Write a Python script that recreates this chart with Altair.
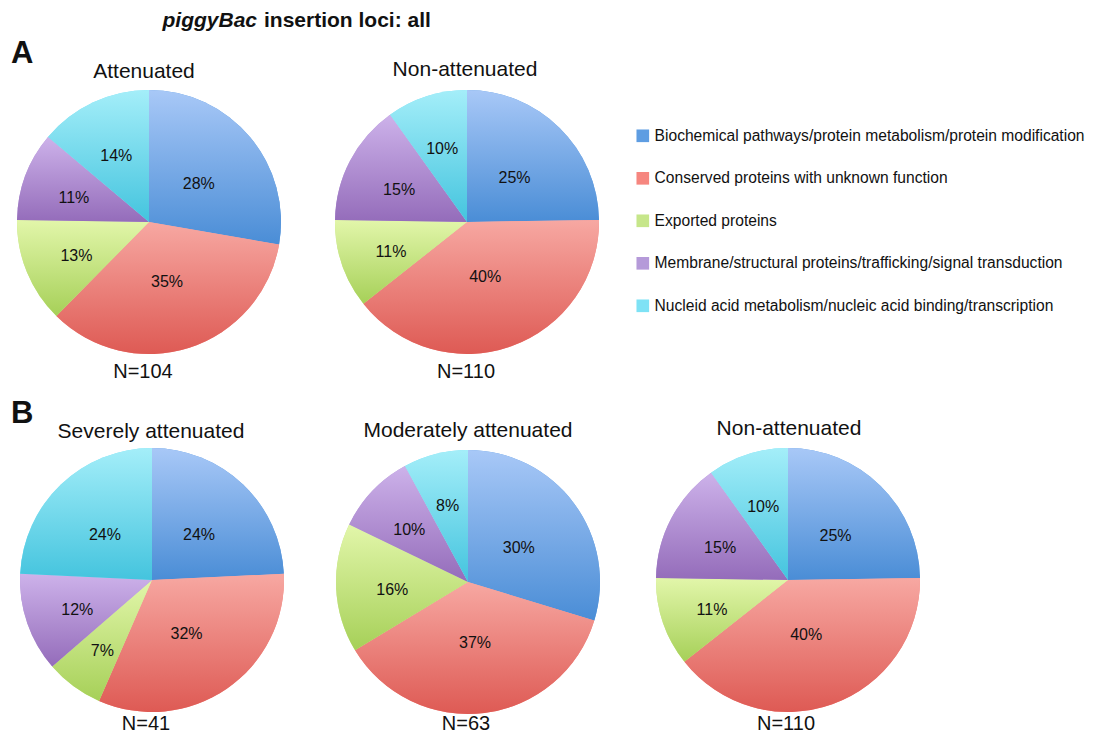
import altair as alt
import pandas as pd
import math

# ---------------- data ----------------
categories = [
    "Biochemical pathways/protein metabolism/protein modification",
    "Conserved proteins with unknown function",
    "Exported proteins",
    "Membrane/structural proteins/trafficking/signal transduction",
    "Nucleid acid metabolism/nucleic acid binding/transcription",
]
legend_colors = ["#5e9de2", "#f6867f", "#c6e68a", "#b59ad9", "#7ee2f5"]
top_colors = ["#a8c8f7", "#f7a8a2", "#e2f6aa", "#cdb2ea", "#a4eef9"]
bottom_colors = ["#4a8dd6", "#de5a54", "#a6d058", "#946cba", "#44c4de"]

pie_titles = ["Attenuated", "Non-attenuated", "Severely attenuated",
              "Moderately attenuated", "Non-attenuated"]
pie_n = [104, 110, 41, 63, 110]

attenuated = [28, 35, 13, 11, 14]
non_attenuated_a = [25, 40, 11, 15, 10]
severely = [24, 32, 7, 12, 24]
moderately = [30, 37, 16, 10, 8]
non_attenuated_b = [25, 40, 11, 15, 10]
series = [attenuated, non_attenuated_a, severely, moderately, non_attenuated_b]

rows = []
for p, vals in enumerate(series):
    for i, (c, v) in enumerate(zip(categories, vals)):
        rows.append({"pie": p, "cat": c, "idx": i, "value": v})
df = pd.DataFrame(rows)

meta = pd.DataFrame({"pie": list(range(5)), "title": pie_titles,
                     "n": ["N=" + str(n) for n in pie_n]})

# ---------------- layout (chart pixel coordinates) ----------------
W, H = 1079, 727
R = 132
centers = [(141, 214), (459, 214), (144, 572), (460, 574), (780, 572)]
title_pos = [(136, 70), (457, 68), (143, 430), (460, 429), (781, 427)]
n_pos = [(135, 370), (458, 370), (138, 722), (458, 722), (778, 722)]
FONT = "Liberation Sans"

theta_scale = alt.Scale(domain=[0, 1], range=[0, 2 * math.pi])
color_scale = alt.Scale(domain=categories, range=legend_colors)
legend = alt.Legend(
    title=None, orient="none", legendX=627, legendY=120,
    symbolType="square", symbolSize=160, symbolStrokeWidth=0,
    labelFont=FONT, labelFontSize=15.6, labelColor="#111",
    rowPadding=25.5, labelOffset=4, padding=0, labelLimit=700,
)


def pie_base(p):
    return (
        alt.Chart(df)
        .transform_filter(alt.datum.pie == p)
        .transform_joinaggregate(total="sum(value)")
        .transform_window(cum="sum(value)", sort=[alt.SortField("idx")],
                          frame=[None, 0])
        .transform_calculate(
            start="(datum.cum - datum.value) / datum.total",
            end="datum.cum / datum.total",
            mid="(datum.cum - datum.value / 2) / datum.total",
            frac="datum.value / datum.total",
            label="datum.value + '%'",
        )
        .transform_calculate(lr="90 - 90 * datum.frac")
    )


layers = []
for p, (cx, cy) in enumerate(centers):
    pos = dict(x=alt.value(cx), y=alt.value(cy))
    base = pie_base(p)
    # solid base (also provides the legend)
    layers.append(
        base.mark_arc(outerRadius=R).encode(
            theta=alt.Theta("start:Q", scale=theta_scale),
            theta2="end:Q",
            color=alt.Color("cat:N", scale=color_scale, sort=categories,
                            legend=legend),
            **pos,
        )
    )
    # shaded slices
    for i, c in enumerate(categories):
        grad = alt.Gradient(
            gradient="linear", x1=0, y1=0, x2=0, y2=1,
            stops=[alt.GradientStop(offset=0, color=top_colors[i]),
                   alt.GradientStop(offset=1, color=bottom_colors[i])],
        )
        layers.append(
            base.transform_filter(alt.datum.idx == i)
            .mark_arc(outerRadius=R, fill=grad)
            .encode(theta=alt.Theta("start:Q", scale=theta_scale),
                    theta2="end:Q", **pos)
        )
    # percentage labels
    layers.append(
        base.mark_text(font=FONT, fontSize=16, color="#111", dy=4)
        .encode(theta=alt.Theta("mid:Q", scale=theta_scale),
                radius=alt.Radius("lr:Q", scale=None),
                text="label:N", **pos)
    )

    tx, ty = title_pos[p]
    nx, ny = n_pos[p]
    m = alt.Chart(meta).transform_filter(alt.datum.pie == p)
    layers.append(m.mark_text(font=FONT, fontSize=21, color="#111",
                              align="center", baseline="alphabetic")
                  .encode(text="title:N", x=alt.value(tx), y=alt.value(ty)))
    layers.append(m.mark_text(font=FONT, fontSize=20, color="#111",
                              align="center", baseline="alphabetic")
                  .encode(text="n:N", x=alt.value(nx), y=alt.value(ny)))

one = pd.DataFrame({"a": [0]})
layers.append(alt.Chart(one).mark_text(
    text="piggyBac", font=FONT, fontSize=21, fontWeight="bold", fontStyle="italic",
    align="right", baseline="alphabetic", color="#111"
).encode(x=alt.value(249), y=alt.value(19)))
layers.append(alt.Chart(one).mark_text(
    text="insertion loci: all", font=FONT, fontSize=21, fontWeight="bold",
    align="left", baseline="alphabetic", color="#111"
).encode(x=alt.value(256), y=alt.value(19)))
layers.append(alt.Chart(one).mark_text(
    text="A", font=FONT, fontSize=31, fontWeight="bold",
    align="left", baseline="alphabetic", color="#111"
).encode(x=alt.value(3), y=alt.value(55)))
layers.append(alt.Chart(one).mark_text(
    text="B", font=FONT, fontSize=31, fontWeight="bold",
    align="left", baseline="alphabetic", color="#111"
).encode(x=alt.value(3), y=alt.value(415)))

chart = alt.layer(*layers).properties(
    width=W, height=H, padding=0, autosize=alt.AutoSizeParams(type="none"),
    background="white",
).configure_view(stroke=None)

chart.save("out.html", embed_options={"renderer": "svg", "actions": False})
